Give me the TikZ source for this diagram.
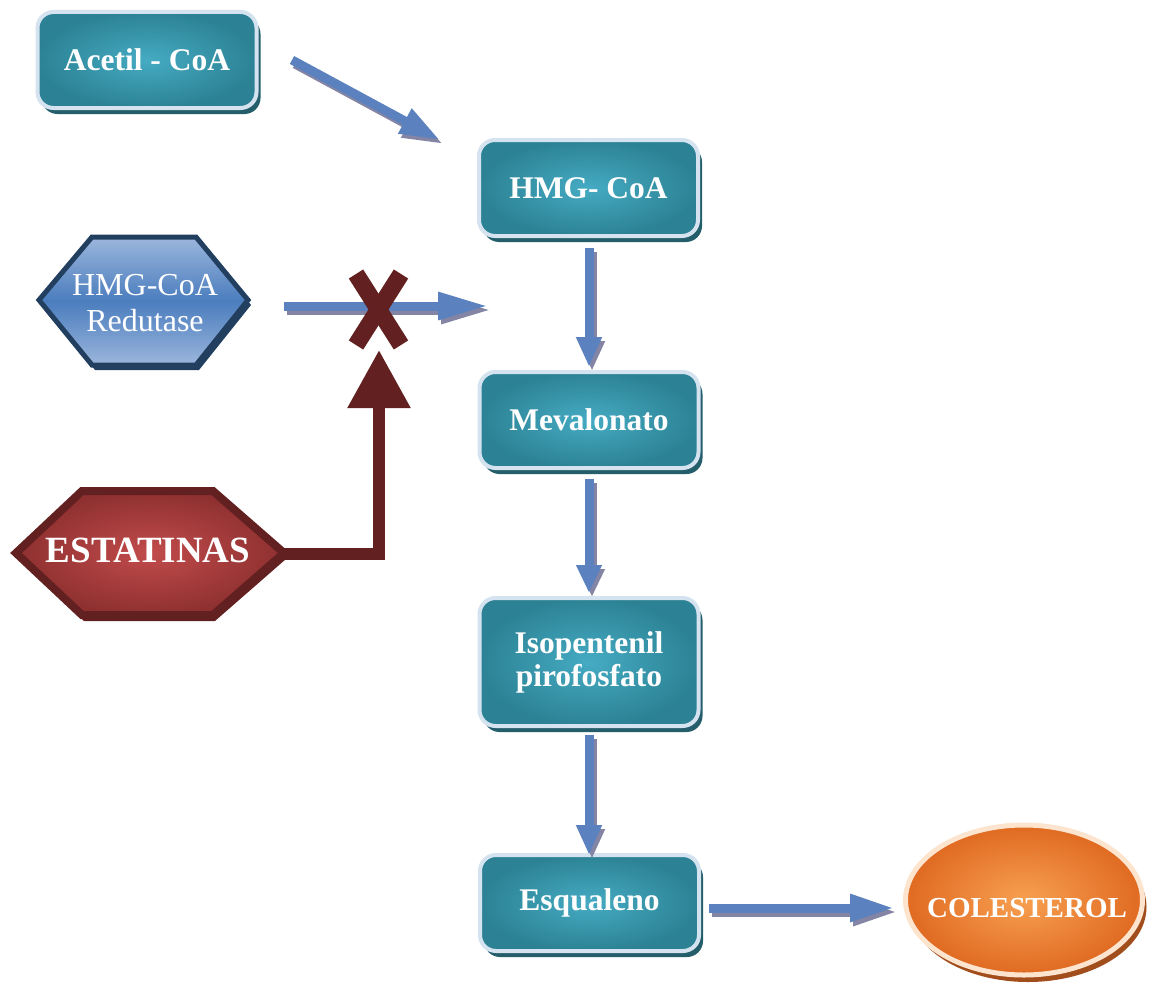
\documentclass[tikz,border=0pt]{standalone}
\usepackage{fontspec}
\setmainfont{Liberation Serif}
\usetikzlibrary{arrows.meta,shapes.geometric,shadows}
\definecolor{tealin}{HTML}{45ABC3}
\definecolor{tealout}{HTML}{2C8294}
\definecolor{boxborder}{HTML}{D5E3F0}
\definecolor{tealshadow}{HTML}{245E6B}
\definecolor{hexlight}{HTML}{9BB6DC}
\definecolor{hexmid}{HTML}{4B7DBE}
\definecolor{hexborder}{HTML}{223F5F}
\definecolor{redin}{HTML}{C24B4B}
\definecolor{redout}{HTML}{8E3030}
\definecolor{redborder}{HTML}{632020}
\definecolor{orin}{HTML}{F7A050}
\definecolor{orout}{HTML}{E06A22}
\definecolor{orborder}{HTML}{FDE4CE}
\definecolor{orshadow}{HTML}{A24D1C}
\definecolor{arrowblue}{HTML}{5B82BF}
\definecolor{arrowshadow}{HTML}{8484A4}
\newcommand\bluearrow[4]{%
  \draw[line width=9pt,arrowshadow,-{Triangle[length=#3,width=#4]},transform canvas={shift={(3pt,-4pt)}}] (#1) -- (#2);
  \draw[line width=9pt,arrowblue,-{Triangle[length=#3,width=#4]}] (#1) -- (#2);}
\begin{document}
\begin{tikzpicture}[x=1pt,y=-1pt,
  stepbox/.style={rounded corners=16pt, draw=boxborder, line width=4pt,
    inner color=tealin, outer color=tealout,
    minimum width=219pt, minimum height=96pt, text=white, align=center,
    font=\fontsize{31.5}{33}\selectfont\bfseries,
    drop shadow={shadow xshift=4pt,shadow yshift=-6pt,fill=tealshadow,opacity=1}},
  redline/.style={line width=12pt, redborder, line join=miter,
    -{Triangle[length=58pt,width=60pt]}},
  xstroke/.style={line width=17pt, redborder}]
\useasboundingbox (0,0) rectangle (1152,998);

% boxes
\node[stepbox] (acetil) at (147,60) {Acetil - CoA};
\node[stepbox] (hmg) at (588.5,188) {HMG- CoA};
\node[stepbox] (mev) at (589,420) {Mevalonato};
\node[stepbox, minimum height=128pt] (iso) at (589,662) {Isopentenil\\pirofosfato};
\node[stepbox] (esq) at (589.5,903) {Esqualeno};

% colesterol
\node[ellipse, draw=orborder, line width=5pt, inner color=orin, outer color=orout,
  minimum width=237pt, minimum height=150pt,
  drop shadow={shadow xshift=4pt,shadow yshift=-7pt,fill=orshadow,opacity=1}] (colest) at (1024,900) {};
\node[text=white, font=\fontsize{29}{31}\selectfont\bfseries] (coltext) at (1027,908) {COLESTEROL};

% blue hexagon
\fill[hexborder] (42,305) -- (95,242) -- (199,242) -- (251,305) -- (199,370) -- (95,370) -- cycle;
\path[draw=hexborder, line width=5pt, line join=miter, top color=hexlight, bottom color=hexlight, middle color=hexmid]
  (39,300) -- (92,237) -- (196,237) -- (248,300) -- (196,365) -- (92,365) -- cycle;
\node[text=white, align=center, font=\fontsize{32}{36}\selectfont] (hmgr) at (145,303) {HMG-CoA\\Redutase};

% red hexagon
\fill[redborder] (18,559) -- (84,497) -- (215,497) -- (286,559) -- (215,621) -- (84,621) -- cycle;
\path[draw=redborder, line width=8pt, line join=miter, inner color=redin, outer color=redout]
  (16,553) -- (82,491) -- (213,491) -- (284,553) -- (213,615) -- (82,615) -- cycle;
\node[text=white, font=\fontsize{37}{40}\selectfont\bfseries] (estat) at (148,550) {ESTATINAS};

% blue arrows
\coordinate (a1s) at (292,60);
\coordinate (a1e) at (440,140);
\coordinate (a2s) at (284,306);
\coordinate (a2e) at (488,306);
\coordinate (v1s) at (589,248);
\coordinate (v1e) at (589,367);
\coordinate (v2s) at (589,479);
\coordinate (v2e) at (589,593);
\coordinate (v3s) at (589,735);
\coordinate (v3e) at (589,855);
\coordinate (hs) at (709,908);
\coordinate (he) at (894,908);
\bluearrow{a1s}{a1e}{40pt}{26pt}
\bluearrow{a2s}{a2e}{50pt}{26pt}
\bluearrow{v1s}{v1e}{30pt}{24pt}
\bluearrow{v2s}{v2e}{28pt}{24pt}
\bluearrow{v3s}{v3e}{30pt}{24pt}
\bluearrow{hs}{he}{44pt}{26pt}

% X mark
\draw[xstroke] (356,274) -- (401,345);
\draw[xstroke] (401,274) -- (356,345);

% inhibition connector
\coordinate (redpt) at (284,554);
\coordinate (tri) at (379,350);
\draw[redline] (redpt) -| (tri);
\end{tikzpicture}
\end{document}
